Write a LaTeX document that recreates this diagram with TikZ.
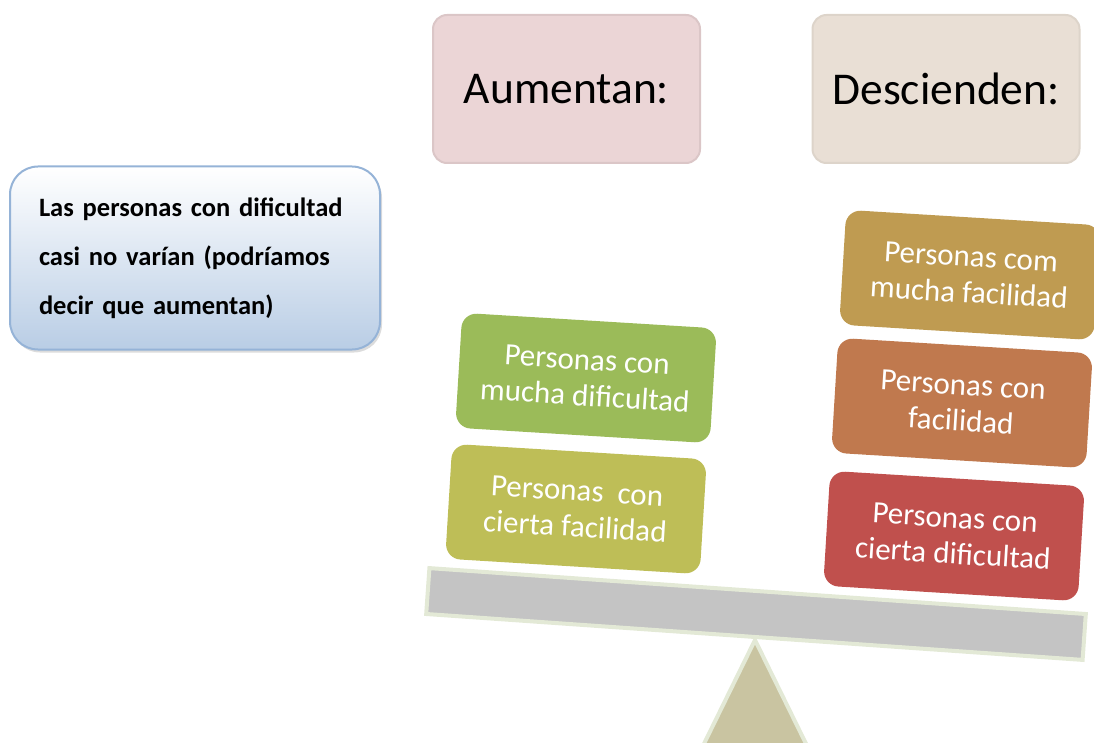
\documentclass[tikz,border=0pt]{standalone}
\usepackage{fontspec}
\setmainfont{Carlito}
\usetikzlibrary{positioning, shadows}
\definecolor{notaborde}{HTML}{95B3D7}
\definecolor{notafondo}{HTML}{B9CDE5}
\definecolor{sube}{HTML}{EBD5D6}
\definecolor{baja}{HTML}{E9DFD5}
\definecolor{verde}{HTML}{9BBB59}
\definecolor{oliva}{HTML}{BEBE57}
\definecolor{dorado}{HTML}{BF9B51}
\definecolor{naranja}{HTML}{C0794E}
\definecolor{rojo}{HTML}{C0504D}
\definecolor{barra}{HTML}{C4C4C4}
\definecolor{soporte}{HTML}{C9C4A1}
\definecolor{bordeclaro}{HTML}{E3E9D6}
\newcommand{\notafuente}{\fontsize{26.5}{49}\selectfont\bfseries\spaceskip=0.17em\relax\hyphenpenalty=10000\relax}
\tikzset{
	x=1pt, y=-1pt, % one unit is one pixel of the page, y grows downwards
	nota/.style={draw=notaborde, line width=2pt, rounded corners=28pt, top color=white, bottom color=notafondo, drop shadow={shadow xshift=2pt, shadow yshift=-3pt, fill=gray!55}}, % the note on the left
	titulo/.style={rounded corners=14pt, minimum width=267pt, minimum height=148pt, font=\fontsize{45.5}{50}\selectfont, line width=2pt}, % the two headings
	grupo/.style={rounded corners=15pt, rotate=-3.5, minimum width=255pt, minimum height=115pt, text=white, align=center, font=\fontsize{31}{36}\selectfont}, % the groups that sit on the scale
}

\begin{document}
\begin{tikzpicture}
	\useasboundingbox (0,0) rectangle (1094,743);
	% headings
	\node[titulo, fill=sube, draw=sube!93!black] (aumentan) at (566.5,89) {Aumentan:};
	\node[titulo, fill=baja, draw=baja!95!black] (descienden) at (946,89) {Descienden:};
	% note
	\node[nota, minimum width=370pt, minimum height=183pt, text width=312pt, align=left, font=\notafuente] (nota) at (195,258)
		{Las personas con dificultad\\casi no varían (podríamos\\decir que aumentan)};
	% the scale
	\filldraw[fill=soporte, draw=bordeclaro, line width=4pt, line join=round] (755,640) -- (814,760) -- (696,760) -- cycle;
	\node[rotate=-4, fill=barra, draw=bordeclaro, line width=4pt, minimum width=658pt, minimum height=46pt] (barra) at (756,614) {};
	% left side
	\node[grupo, fill=oliva] (ciertafac) at (576,509) {Personas \ con\\cierta facilidad};
	\node[grupo, fill=verde] (muchadif) at (586,378) {Personas con\\mucha dificultad};
	% right side
	\node[grupo, fill=rojo] (ciertadif) at (954,536) {Personas con\\cierta dificultad};
	\node[grupo, fill=naranja] (facilidad) at (962,403) {Personas con\\facilidad};
	\node[grupo, fill=dorado] (muchafac) at (970,275) {Personas com\\mucha facilidad};
\end{tikzpicture}
\end{document}
